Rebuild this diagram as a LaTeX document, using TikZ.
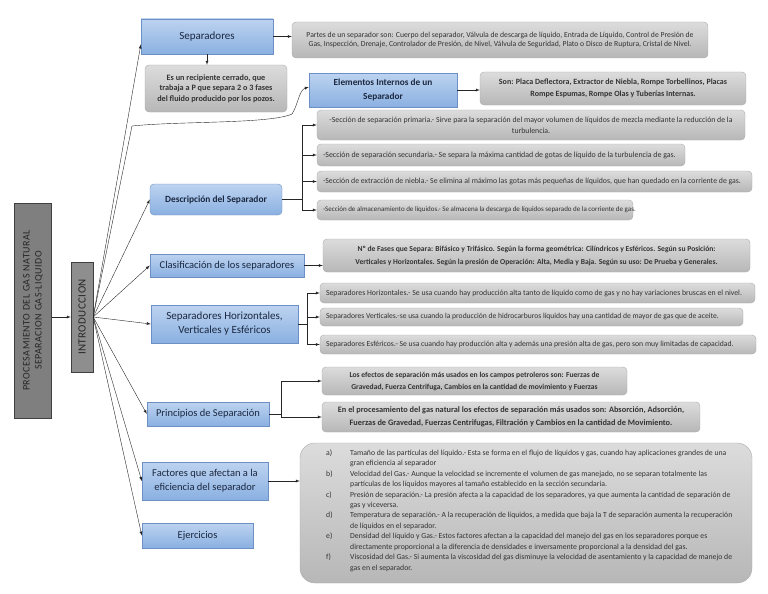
\documentclass[tikz,border=0pt]{standalone}
\usepackage{fontspec}
\setmainfont{Carlito}
\usetikzlibrary{arrows}
\definecolor{hdrtop}{HTML}{BDD3F0}
\definecolor{hdrbot}{HTML}{8AB0E1}
\definecolor{hdrline}{HTML}{6C90C6}
\definecolor{hdrtext}{HTML}{1B2840}
\definecolor{infotop}{HTML}{DCDCDC}
\definecolor{infobot}{HTML}{B7B7B7}
\definecolor{infoline}{HTML}{ABABAB}
\definecolor{infotext}{HTML}{333333}
\definecolor{darkbox}{HTML}{7F7F7F}
\definecolor{midbox}{HTML}{8E8E8E}
\newcommand{\fsz}[2]{\fontsize{#1}{#2}\selectfont}
\newcommand{\lbox}[2]{\makebox[#1][l]{#2}}

\begin{document}
\begin{tikzpicture}[x=1pt,y=-1pt]
	\tikzstyle{hdr}=[draw=hdrline,top color=hdrtop,bottom color=hdrbot,text=hdrtext,align=center,inner sep=1pt]
	\tikzstyle{info}=[draw=infoline,rounded corners=4pt,top color=infotop,bottom color=infobot,text=infotext,align=center,inner sep=2pt]
	\tikzstyle{tall}=[draw=black!75,rotate=90,align=center,inner sep=1pt,text=black!85]
	\tikzstyle{arr}=[->,>=latex,black!85]
	\useasboundingbox (0,0) rectangle (768,594);

	\node[tall,fill=darkbox,minimum width=215,minimum height=37,font=\fsz{10}{12}\addfontfeature{LetterSpace=5}] (main) at (33,310.5) {PROCESAMIENTO DEL GAS NATURAL\\SEPARACION GAS-LIQUIDO};
	\node[tall,fill=midbox,minimum width=110,minimum height=22,font=\fsz{11}{12}\addfontfeature{LetterSpace=4}] (intro) at (82,317) {INTRODUCCION};
	\draw[arr] (main.south |- intro.north) -- (intro.north);
	\coordinate (hub) at (intro.south);

	\node[hdr,minimum width=132,minimum height=35,font=\fsz{11}{12}] (sep) at (207,36.5) {Separadores};
	\node[info,minimum width=416,minimum height=36,font=\fsz{7.7}{9.5}] (partes) at (500,40) {Partes de un separador son: Cuerpo del separador, Válvula de descarga de líquido, Entrada de Líquido, Control de Presión de\\Gas, Inspección, Drenaje, Controlador de Presión, de Nivel, Válvula de Seguridad, Plato o Disco de Ruptura, Cristal de Nivel.};
	\node[info,minimum width=142,minimum height=47,font=\bfseries\fsz{8.2}{10.5}] (recip) at (216,88.5) {Es un recipiente cerrado, que\\trabaja a P que separa 2 o 3 fases\\del fluido producido por los pozos.};
	\node[hdr,minimum width=148,minimum height=34,font=\bfseries\fsz{9.3}{14}] (elem) at (383,90) {Elementos Internos de un\\Separador};
	\node[info,minimum width=266,minimum height=33,font=\bfseries\fsz{8}{12}] (son) at (613,88.5) {Son: Placa Deflectora, Extractor de Niebla, Rompe Torbellinos, Placas\\Rompe Espumas, Rompe Olas y Tuberías Internas.};

	\node[hdr,rounded corners=4pt,minimum width=132,minimum height=31,font=\bfseries\fsz{9.4}{11}] (desc) at (216,199.5) {Descripción del Separador};
	\node[info,minimum width=428,minimum height=30,font=\fsz{7.8}{11}] (d1) at (531,125) {-Sección de separación primaria.- Sirve para la separación del mayor volumen de líquidos de mezcla mediante la reducción de la\\turbulencia.};
	\node[info,inner xsep=6pt,minimum width=368,minimum height=22,font=\fsz{7.9}{10}] (d2) at (501,155) {\lbox{356pt}{-Sección de separación secundaria.- Se separa la máxima cantidad de gotas de líquido de la turbulencia de gas.}};
	\node[info,inner xsep=6pt,minimum width=435,minimum height=21,font=\fsz{7.8}{10}] (d3) at (534.5,181.5) {\lbox{423pt}{-Sección de extracción de niebla.- Se elimina al máximo las gotas más pequeñas de líquidos, que han quedado en la corriente de gas.}};
	\node[info,inner xsep=6pt,minimum width=316,minimum height=20,font=\fsz{7}{10}] (d4) at (475,210) {\lbox{304pt}{-Sección de almacenamiento de líquidos.- Se almacena la descarga de líquidos separado de la corriente de gas.}};

	\node[hdr,minimum width=154,minimum height=23,font=\fsz{10.5}{12}] (clasif) at (227,265.5) {Clasificación de los separadores};
	\node[info,minimum width=427,minimum height=33,font=\bfseries\fsz{7.6}{13}] (tipos) at (536.5,255.5) {Nº de Fases que Separa: Bifásico y Trifásico. Según la forma geométrica: Cilíndricos y Esféricos. Según su Posición:\\Verticales y Horizontales. Según la presión de Operación: Alta, Media y Baja. Según su uso: De Prueba y Generales.};

	\node[hdr,minimum width=147,minimum height=38,font=\fsz{11}{14}] (sephv) at (224.5,324) {Separadores Horizontales,\\Verticales y Esféricos};
	\node[info,inner xsep=6pt,minimum width=435,minimum height=20,font=\fsz{7.8}{9}] (h1) at (537.5,293) {\lbox{423pt}{Separadores Horizontales.- Se usa cuando hay producción alta tanto de líquido como de gas y no hay variaciones bruscas en el nivel.}};
	\node[info,inner xsep=6pt,minimum width=423,minimum height=18,font=\fsz{7.6}{9}] (h2) at (531.5,317) {\lbox{411pt}{Separadores Verticales.-se usa cuando la producción de hidrocarburos líquidos hay una cantidad de mayor de gas que de aceite.}};
	\node[info,inner xsep=6pt,minimum width=436,minimum height=19,font=\fsz{7.7}{9}] (h3) at (538,344.5) {\lbox{424pt}{Separadores Esféricos.- Se usa cuando hay producción alta y además una presión alta de gas, pero son muy limitadas de capacidad.}};

	\node[hdr,minimum width=122,minimum height=24,font=\fsz{10.5}{12}] (princ) at (208,414) {Principios de Separación};
	\node[info,minimum width=305,minimum height=28,font=\bfseries\fsz{7.6}{12}] (p1) at (474.5,381) {Los efectos de separación más usados en los campos petroleros son: Fuerzas de\\Gravedad, Fuerza Centrifuga, Cambios en la cantidad de movimiento y Fuerzas};
	\node[info,minimum width=378,minimum height=30,font=\bfseries\fsz{8.3}{12.5}] (p2) at (511,417) {En el procesamiento del gas natural los efectos de separación más usados son: Absorción, Adsorción,\\Fuerzas de Gravedad, Fuerzas Centrifugas, Filtración y Cambios en la cantidad de Movimiento.};

	\node[hdr,minimum width=126,minimum height=38,font=\fsz{10.5}{14}] (fact) at (205,481) {Factores que afectan a la\\eficiencia del separador};
	\node[info,rounded corners=15pt,minimum width=452,minimum height=140] (factinfo) at (526,513) {};
	\node[anchor=north west,inner sep=0pt,text=infotext,font=\fsz{7.75}{10.45}] (factlist) at (326,447.7) {\begin{tabular}{@{}p{24pt}@{}l@{}}
		a) & Tamaño de las partículas del líquido.- Esta se forma en el flujo de líquidos y gas, cuando hay aplicaciones grandes de una\\
		   & gran eficiencia al separador\\
		b) & Velocidad del Gas.- Aunque la velocidad se incremente el volumen de gas manejado, no se separan totalmente las\\
		   & partículas de los líquidos mayores al tamaño establecido en la sección secundaria.\\
		c) & Presión de separación.- La presión afecta a la capacidad de los separadores, ya que aumenta la cantidad de separación de\\
		   & gas y viceversa.\\
		d) & Temperatura de separación.- A la recuperación de líquidos, a medida que baja la T de separación aumenta la recuperación\\
		   & de líquidos en el separador.\\
		e) & Densidad del líquido y Gas.- Estos factores afectan a la capacidad del manejo del gas en los separadores porque es\\
		   & directamente proporcional a la diferencia de densidades e inversamente proporcional a la densidad del gas.\\
		f) & Viscosidad del Gas.- Si aumenta la viscosidad del gas disminuye la velocidad de asentamiento y la capacidad de manejo de\\
		   & gas en el separador.
	\end{tabular}};

	\node[hdr,minimum width=111,minimum height=25,font=\fsz{10.5}{12}] (ejer) at (197.5,535.5) {Ejercicios};

	\draw[arr] (hub) -- ([yshift=-8pt]sep.west);
	\draw[arr] (hub) -- (132,126) .. controls (180,121) and (270,124) .. (292,114) .. controls (298,105) and (299,90) .. ([yshift=3pt]elem.west);
	\draw[arr] (hub) -- (desc.west);
	\draw[arr] (hub) -- (clasif.west);
	\draw[arr] (hub) -- (sephv.west);
	\draw[arr] (hub) -- (princ.west);
	\draw[arr] (hub) -- (fact.west);
	\draw[arr] (hub) -- (ejer.west);

	\draw[arr] (sep.east) -- (sep.east -| partes.west);
	\draw[arr] (sep.south) -- (sep.south |- recip.north);
	\draw[arr] (elem.east) -- (elem.east -| son.west);
	\draw[arr] (clasif.east) -- (clasif.east -| tipos.west);
	\draw[arr] (fact.east) -- (fact.east -| factinfo.west);

	\draw[black!85] (desc.east) -- ++(20,0) coordinate (dj);
	\draw[black!85] (dj |- d1.west) -- (dj |- d4.west);
	\foreach \n in {d1,d2,d3,d4}
		\draw[arr] (dj |- \n.west) -- (\n.west);

	\draw[black!85] (sephv.east) -- ++(9,0) coordinate (hj);
	\draw[black!85] (hj |- h1.west) -- (hj |- h3.west);
	\foreach \n in {h1,h2,h3}
		\draw[arr] (hj |- \n.west) -- (\n.west);

	\draw[black!85] (princ.east) -- ++(12,0) coordinate (pj);
	\draw[black!85] (pj |- p1.west) -- (pj |- p2.west);
	\foreach \n in {p1,p2}
		\draw[arr] (pj |- \n.west) -- (\n.west);
\end{tikzpicture}
\end{document}
